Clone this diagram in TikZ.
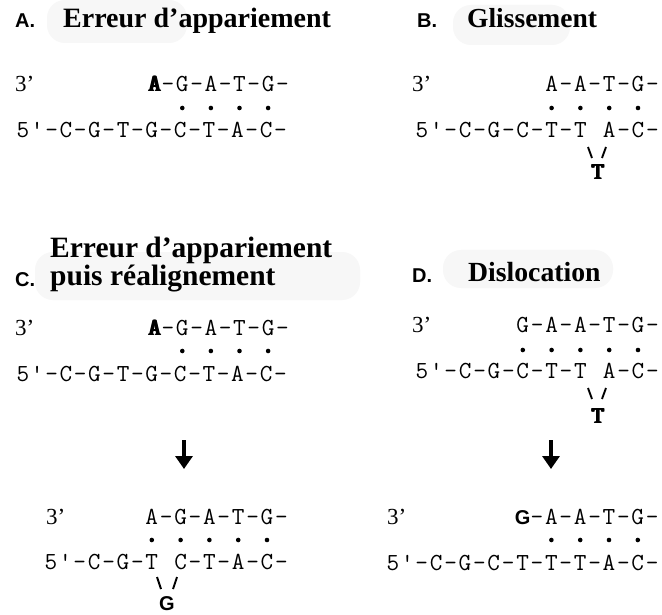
\documentclass[tikz,border=0pt]{standalone}
\usepackage{fontspec}
\setmainfont{Liberation Serif}
\newfontfamily\lblfont{Liberation Sans}
\usetikzlibrary{arrows.meta}
\newcommand\dnafont{\ttfamily\fontsize{24.5}{24.5}\selectfont}
\newcommand\heavy[1]{\leavevmode\rlap{#1}\kern0.5pt\rlap{#1}\kern0.5pt\rlap{#1}\kern0.5pt\rlap{#1}\kern0.5pt#1\kern-2pt}
\newcommand\strandrow[5]{%
  \foreach \c [count=\i from 0] in {#5} {
    \node[dna] (#1-\i) at ({#2+#3*\i},#4) {\c};
  }}
\tikzset{
  dna/.style={font=\dnafont, inner sep=0pt, anchor=base},
  prime/.style={font=\fontsize{23}{23}\selectfont, inner sep=0pt, anchor=base west},
  ttl/.style={font=\bfseries\fontsize{28}{30}\selectfont, inner sep=0pt, anchor=base west},
  lbl/.style={font=\lblfont\bfseries\fontsize{20}{20}\selectfont, inner sep=0pt, anchor=base west},
  ins/.style={inner sep=0pt, anchor=base},
  pairdot/.style={fill=black},
  slash/.style={line width=1.9pt},
  bigarrow/.style={line width=4pt, -{Triangle[width=17pt,length=13pt]}},
  blob/.style={fill=black!3, rounded corners=18pt},
}
\begin{document}
\begin{tikzpicture}[x=1pt,y=-1pt]
\useasboundingbox[fill=white] (0,0) rectangle (662,615);
% faint title backgrounds
\fill[blob] (47,0) rectangle (187,43);
\fill[blob] (453,5) rectangle (570,45);
\fill[blob] (35,252) rectangle (360,300);
\fill[blob] (443,250) rectangle (613,288);

% ---------- Panel A ----------
\node[lbl] (Alab) at (15,28) {A.};
\node[ttl] (Attl) at (63,28) {Erreur d’appariement};
\node[prime] (A3) at (15,92) {3’};
\strandrow{At}{153.7}{14.3}{92}{{\heavy{A}},-,G,-,A,-,T,-,G,-}
\strandrow{Ab}{23}{14.3}{138}{5,\textquotesingle,-,C,-,G,-,T,-,G,-,C,-,T,-,A,-,C,-}
\foreach \i in {2,4,6,8} \fill[pairdot] (At-\i |- 0,108) circle (2.3);

% ---------- Panel B ----------
\node[lbl] (Blab) at (417,28) {B.};
\node[ttl, font=\bfseries\fontsize{27.5}{30}\selectfont] (Bttl) at (467,28) {Glissement};
\node[prime] (B3) at (412,92) {3’};
\strandrow{Bt}{551.6}{14.4}{92}{A,-,A,-,T,-,G,-}
\strandrow{Bb}{422}{14.4}{138}{5,\textquotesingle,-,C,-,G,-,C,-,T,-,T,{},A,-,C,-}
\foreach \i in {0,2,4,6} \fill[pairdot] (Bt-\i |- 0,108) circle (2.3);
\node[ins, font=\dnafont] (Bins) at (597,180) {\heavy{T}};
\coordinate (Bs1a) at (588,147); \coordinate (Bs1b) at (592,158);
\coordinate (Bs2a) at (606,147); \coordinate (Bs2b) at (602,158);
\draw[slash] (Bs1a) -- (Bs1b);
\draw[slash] (Bs2a) -- (Bs2b);

% ---------- Panel C ----------
\node[lbl] (Clab) at (15,286) {C.};
\node[ttl, font=\bfseries\fontsize{29.5}{30}\selectfont] (Cttl1) at (50,258) {Erreur d’appariement};
\node[ttl, font=\bfseries\fontsize{29.5}{30}\selectfont] (Cttl2) at (50,285) {puis réalignement};
\node[prime] (C3) at (15,335) {3’};
\strandrow{Ct}{153.7}{14.3}{335}{{\heavy{A}},-,G,-,A,-,T,-,G,-}
\strandrow{Cb}{23}{14.3}{381}{5,\textquotesingle,-,C,-,G,-,T,-,G,-,C,-,T,-,A,-,C,-}
\foreach \i in {2,4,6,8} \fill[pairdot] (Ct-\i |- 0,351) circle (2.3);
\coordinate (Ca1) at (184,440); \coordinate (Ca2) at (184,469);
\draw[bigarrow] (Ca1) -- (Ca2);
\node[prime] (E3) at (46,524) {3’};
\strandrow{Et}{151.8}{14.4}{524}{A,-,G,-,A,-,T,-,G,-}
\strandrow{Eb}{51}{14.4}{569}{5,\textquotesingle,-,C,-,G,-,T,{},C,-,T,-,A,-,C,-}
\foreach \i in {0,2,4,6,8} \fill[pairdot] (Et-\i |- 0,540) circle (2.3);
\node[ins, font=\lblfont\bfseries\fontsize{20}{20}\selectfont] (Eins) at (167,610) {G};
\coordinate (Es1a) at (157,577); \coordinate (Es1b) at (161,589);
\coordinate (Es2a) at (177,577); \coordinate (Es2b) at (173,589);
\draw[slash] (Es1a) -- (Es1b);
\draw[slash] (Es2a) -- (Es2b);

% ---------- Panel D ----------
\node[lbl] (Dlab) at (412,282) {D.};
\node[ttl, font=\bfseries\fontsize{27.7}{30}\selectfont] (Dttl) at (468,281) {Dislocation};
\node[prime] (D3) at (412,332) {3’};
\strandrow{Dt}{522.8}{14.4}{332}{G,-,A,-,A,-,T,-,G,-}
\strandrow{Db}{422}{14.4}{378}{5,\textquotesingle,-,C,-,G,-,C,-,T,-,T,{},A,-,C,-}
\foreach \i in {0,2,4,6,8} \fill[pairdot] (Dt-\i |- 0,350) circle (2.3);
\node[ins, font=\dnafont] (Dins) at (597,423) {\heavy{T}};
\coordinate (Ds1a) at (588,388); \coordinate (Ds1b) at (592,399);
\coordinate (Ds2a) at (606,388); \coordinate (Ds2b) at (602,399);
\draw[slash] (Ds1a) -- (Ds1b);
\draw[slash] (Ds2a) -- (Ds2b);
\coordinate (Da1) at (551,440); \coordinate (Da2) at (551,469);
\draw[bigarrow] (Da1) -- (Da2);
\node[prime] (F3) at (387,524) {3’};
\strandrow{Ft}{522.6}{14.4}{524}{{\lblfont\bfseries\fontsize{20}{20}\selectfont G},-,A,-,A,-,T,-,G,-}
\strandrow{Fb}{393}{14.4}{570}{5,\textquotesingle,-,C,-,G,-,C,-,T,-,T,-,T,-,A,-,C,-}
\foreach \i in {2,4,6,8} \fill[pairdot] (Ft-\i |- 0,540) circle (2.3);
\end{tikzpicture}
\end{document}
